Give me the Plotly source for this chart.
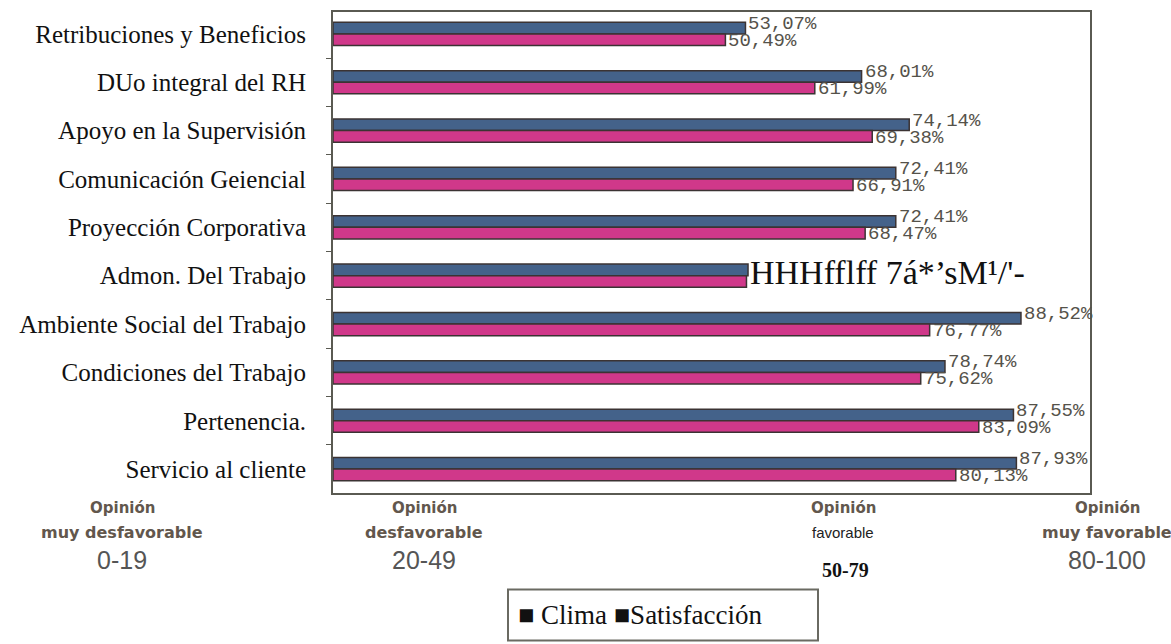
import plotly.graph_objects as go

# Survey dimensions, top to bottom
categories = [
    "Retribuciones y Beneficios",
    "DUo integral del RH",
    "Apoyo en la Supervisión",
    "Comunicación Geiencial",
    "Proyección Corporativa",
    "Admon. Del Trabajo",
    "Ambiente Social del Trabajo",
    "Condiciones del Trabajo",
    "Pertenencia.",
    "Servicio al cliente",
]
clima = [53.07, 68.01, 74.14, 72.41, 72.41, 53.4, 88.52, 78.74, 87.55, 87.93]
satisfaccion = [50.49, 61.99, 69.38, 66.91, 68.47, 53.2, 76.77, 75.62, 83.09, 80.13]
# The Admon. row carries a garbled label instead of its two percentages
garbled_row = "Admon. Del Trabajo"
garbled_text = "HHHfflff 7á*’sM¹/'-"

# Opinion bands along the bottom
band_titles = ["Opinión", "Opinión", "Opinión", "Opinión"]
band_names = ["muy desfavorable", "desfavorable", "favorable", "muy favorable"]
band_ranges = ["0-19", "20-49", "50-79", "80-100"]

CLIMA_COLOR = "#44628a"
SATIS_COLOR = "#d0388a"
EDGE = "#3b3333"
LABEL_COLOR = "#55524a"
BAND_COLOR = "#62574d"

fig = go.Figure()
fig.add_trace(go.Bar(
    y=categories, x=clima, orientation="h", name="Clima",
    marker=dict(color=CLIMA_COLOR, line=dict(color=EDGE, width=1.5)),
))
fig.add_trace(go.Bar(
    y=categories, x=satisfaccion, orientation="h", name="Satisfacción",
    marker=dict(color=SATIS_COLOR, line=dict(color=EDGE, width=1.5)),
))

def pct(v):
    return f"{v:.2f}".replace(".", ",") + "%"

annotations = []
for cat, c, s in zip(categories, clima, satisfaccion):
    if cat == garbled_row:
        annotations.append(dict(
            x=c, y=cat, xref="x", yref="y", text=garbled_text, showarrow=False,
            xanchor="left", yanchor="middle", xshift=0, yshift=3,
            font=dict(family="Liberation Serif", size=34, color="#111111"),
        ))
        continue
    annotations.append(dict(
        x=c, y=cat, xref="x", yref="y", text=pct(c), showarrow=False,
        xanchor="left", yanchor="middle", xshift=1, yshift=10,
        font=dict(family="Liberation Mono", size=19, color=LABEL_COLOR),
    ))
    annotations.append(dict(
        x=s, y=cat, xref="x", yref="y", text=pct(s), showarrow=False,
        xanchor="left", yanchor="middle", xshift=1, yshift=-7,
        font=dict(family="Liberation Mono", size=19, color=LABEL_COLOR),
    ))

# Plot area spans 333..1090 px horizontally and 10..493 px vertically
L, R, T, B = 333, 1090, 10, 493
def px_x(px):
    return (px - L) / (R - L)
def px_y(py):
    return (B - py) / (B - T)

band_x = [122, 424, 843, 1107]
for i, bx in enumerate(band_x):
    annotations.append(dict(
        x=px_x(bx), y=px_y(508), xref="paper", yref="paper", text=band_titles[i],
        showarrow=False, xanchor="center", yanchor="middle",
        font=dict(family="DejaVu Sans", size=15, color=BAND_COLOR, weight="bold"),
    ))
    if band_names[i] == "favorable":
        name_font = dict(family="Liberation Sans", size=15, color="#222222")
    else:
        name_font = dict(family="DejaVu Sans", size=16, color=BAND_COLOR, weight="bold")
    annotations.append(dict(
        x=px_x(bx), y=px_y(533), xref="paper", yref="paper", text=band_names[i],
        showarrow=False, xanchor="center", yanchor="middle", font=name_font,
    ))
    if band_ranges[i] == "50-79":
        annotations.append(dict(
            x=px_x(bx + 2), y=px_y(570), xref="paper", yref="paper", text=band_ranges[i],
            showarrow=False, xanchor="center", yanchor="middle",
            font=dict(family="Liberation Serif", size=20, color="#111111", weight="bold"),
        ))
    else:
        annotations.append(dict(
            x=px_x(bx), y=px_y(560), xref="paper", yref="paper", text=band_ranges[i],
            showarrow=False, xanchor="center", yanchor="middle",
            font=dict(family="Liberation Sans", size=25, color="#555555"),
        ))

# Legend box
annotations.append(dict(
    x=px_x(516), y=px_y(616), xref="paper", yref="paper",
    text="■ Clima ■Satisfacción", showarrow=False, xanchor="left", yanchor="middle",
    font=dict(family="Liberation Serif", size=27, color="#111111"),
))
shapes = [dict(
    type="rect", xref="paper", yref="paper",
    x0=px_x(508), x1=px_x(818), y0=px_y(641), y1=px_y(590),
    line=dict(color="#6a6a62", width=2), fillcolor="rgba(0,0,0,0)",
)]

fig.update_layout(
    width=1171, height=644,
    margin=dict(l=L, r=1171 - R, t=T, b=644 - B),
    paper_bgcolor="white", plot_bgcolor="white",
    barmode="group", bargap=0.52, bargroupgap=0,
    showlegend=False,
    annotations=annotations, shapes=shapes,
    xaxis=dict(
        range=[0, 97.4], showgrid=False, zeroline=False, showticklabels=False,
        ticks="", showline=True, linecolor="#5a5a52", linewidth=2, mirror=True,
    ),
    yaxis=dict(
        range=[9.494, -0.453], showgrid=False, zeroline=False,
        showline=True, linecolor="#5a5a52", linewidth=2, mirror=True,
        ticks="outside", ticklen=5, tickcolor="#5a5a52", tickson="boundaries",
        tickfont=dict(family="Liberation Serif", size=25, color="#111111"),
        ticklabelstandoff=20,
    ),
)

fig.write_html("out.html")
